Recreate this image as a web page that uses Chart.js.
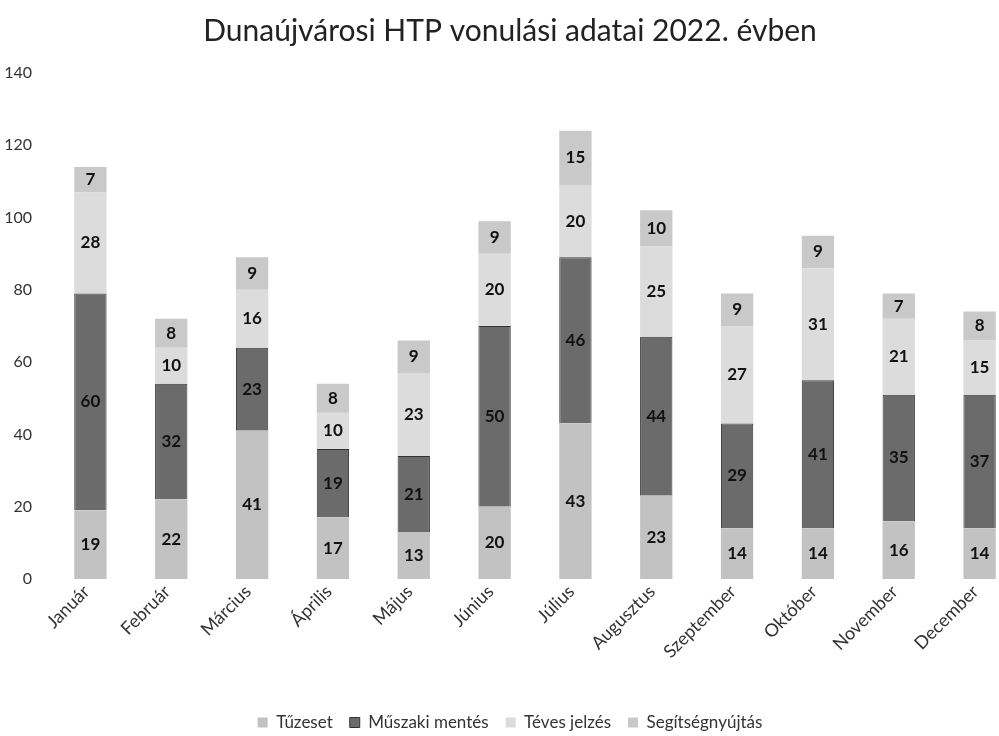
<!DOCTYPE html>
<html>
<head>
<meta charset="utf-8">
<script src="https://cdn.jsdelivr.net/npm/chart.js@4.4.1/dist/chart.umd.min.js"></script>
<style>
  html, body { margin: 0; padding: 0; background: #fff; overflow: hidden; }
  #wrap { position: relative; width: 1020px; height: 736px; }
</style>
</head>
<body>
<div id="wrap"><canvas id="c"></canvas></div>
<script>
const categories = ["Január", "Február", "Március", "Április", "Május", "Június", "Július", "Augusztus", "Szeptember", "Október", "November", "December"];
const tuzeset = [19, 22, 41, 17, 13, 20, 43, 23, 14, 14, 16, 14];
const muszakiMentes = [60, 32, 23, 19, 21, 50, 46, 44, 29, 41, 35, 37];
const tevesJelzes = [28, 10, 16, 10, 23, 20, 20, 25, 27, 31, 21, 15];
const segitsegnyujtas = [7, 8, 9, 8, 9, 9, 15, 10, 9, 9, 7, 8];
const seriesNames = ["Tűzeset", "Műszaki mentés", "Téves jelzés", "Segítségnyújtás"];
const yTicks = [0, 20, 40, 60, 80, 100, 120, 140];

const fills = ['#c2c2c2', '#6b6b6b', '#dcdcdc', '#c9c9c9'];
const FONT = 'Lato, "Open Sans", sans-serif';

const labelPlugin = {
  id: 'segLabels',
  afterDatasetsDraw(chart) {
    const ctx = chart.ctx;
    ctx.save();
    ctx.font = 'bold 17px ' + FONT;
    ctx.fillStyle = '#111';
    ctx.textAlign = 'center';
    ctx.textBaseline = 'middle';
    chart.data.datasets.forEach((ds, di) => {
      const meta = chart.getDatasetMeta(di);
      meta.data.forEach((el, i) => {
        const p = el.getProps(['x', 'y', 'base'], true);
        ctx.fillText(String(ds.data[i]), p.x, (p.y + p.base) / 2);
      });
    });
    ctx.restore();
  }
};

const allSeries = [tuzeset, muszakiMentes, tevesJelzes, segitsegnyujtas];

new Chart(document.getElementById('c'), {
  type: 'bar',
  data: {
    labels: categories,
    datasets: allSeries.map((d, i) => ({
      label: seriesNames[i],
      data: d,
      backgroundColor: fills[i],
      borderColor: i === 1 ? '#333' : 'rgba(0,0,0,0)',
      borderWidth: i === 1 ? 1 : 0,
      barPercentage: 0.8,
      categoryPercentage: 0.5
    }))
  },
  options: {
    responsive: true,
    maintainAspectRatio: false,
    animation: false,
    layout: { padding: { left: 0, right: 0, top: 0, bottom: -5 } },
    plugins: {
      title: {
        display: true,
        text: 'Dunaújvárosi HTP vonulási adatai 2022. évben',
        color: '#222',
        font: { family: FONT, size: 30, weight: 'normal' },
        padding: { top: 13, bottom: 24 }
      },
      legend: {
        position: 'bottom',
        labels: {
          color: '#333',
          font: { family: FONT, size: 17 },
          boxWidth: 10,
          boxHeight: 10,
          padding: 17
        }
      },
      tooltip: { enabled: false }
    },
    scales: {
      x: {
        stacked: true,
        grid: { display: false, drawTicks: false },
        border: { display: false },
        ticks: {
          color: '#333',
          font: { family: FONT, size: 18 },
          minRotation: 45,
          maxRotation: 45,
          padding: 2,
          labelOffset: -4,
          autoSkip: false
        },
        afterFit(scale) { scale.height = 118; }
      },
      y: {
        stacked: true,
        min: 0,
        max: 140,
        grid: { display: false, drawTicks: false },
        border: { display: false },
        afterBuildTicks(scale) { scale.ticks = yTicks.map(v => ({ value: v })); },
        ticks: {
          color: '#333',
          font: { family: FONT, size: 16 },
          padding: 18
        },
        afterFit(scale) { scale.width = 50; }
      }
    }
  },
  plugins: [labelPlugin]
});
</script>
</body>
</html>
